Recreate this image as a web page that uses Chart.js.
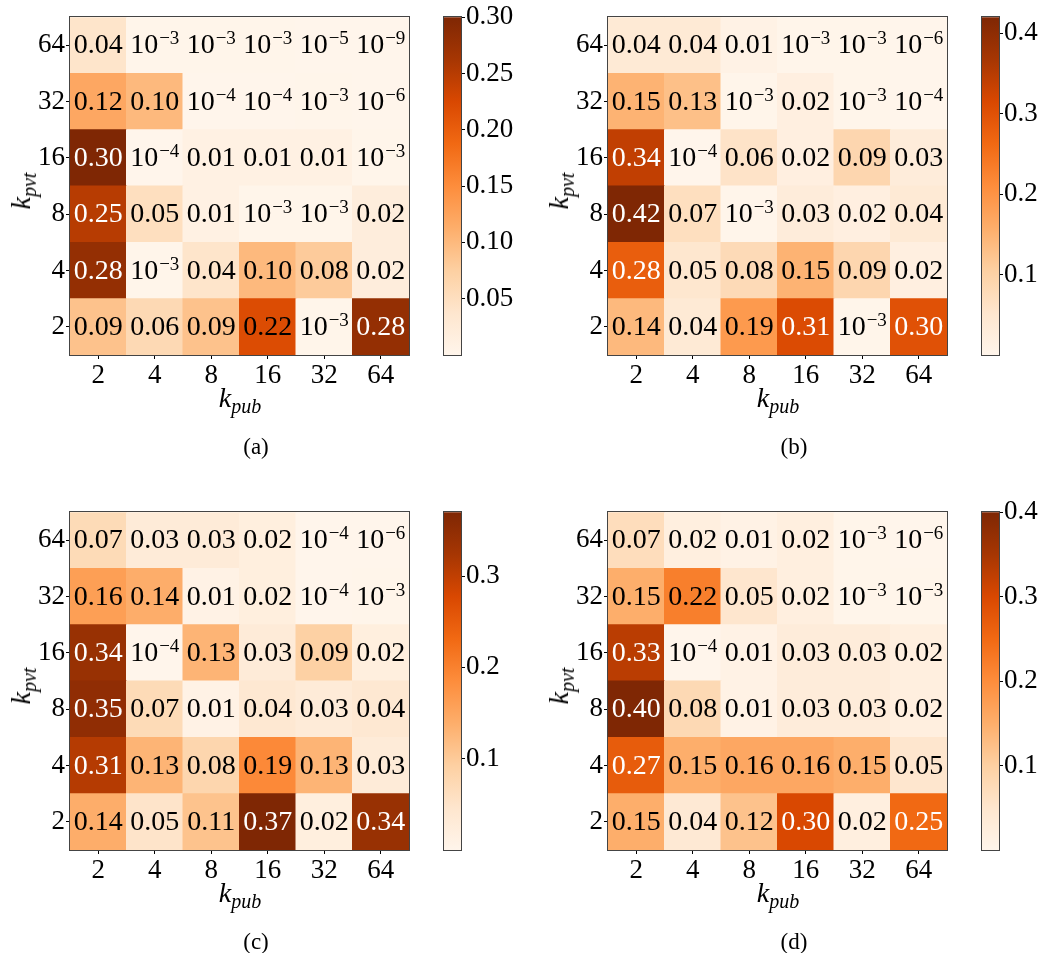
<!DOCTYPE html>
<html>
<head>
<meta charset="utf-8">
<script src="https://cdn.jsdelivr.net/npm/chart.js@4.4.0/dist/chart.umd.min.js"></script>
<style>
    body { margin: 0; background: #fff; }
    #page { position: relative; width: 1044px; height: 953px; font-family: "Liberation Serif", "Times New Roman", serif; color: #000; }
    #page canvas { position: absolute; }
    .ttl { position: absolute; white-space: nowrap; font-size: 28px; line-height: 28px; }
    .ttl sub { font-size: 20px; vertical-align: -6px; line-height: 0; }
    .cap { position: absolute; white-space: nowrap; font-size: 23px; line-height: 23px; transform: translate(-50%, -50%); }
</style>
</head>
<body>
<div id="page"></div>
<script>
    // axis categories
    var kpub = ['2', '4', '8', '16', '32', '64'];
    var kpvt = ['64', '32', '16', '8', '4', '2'];   // rows, top to bottom

    // cell values, rows top (k_pvt = 64) to bottom (k_pvt = 2)
    var valsA = [
        [0.04, 1e-3, 1e-3, 1e-3, 1e-5, 1e-9],
        [0.12, 0.10, 1e-4, 1e-4, 1e-3, 1e-6],
        [0.30, 1e-4, 0.01, 0.01, 0.01, 1e-3],
        [0.25, 0.05, 0.01, 1e-3, 1e-3, 0.02],
        [0.28, 1e-3, 0.04, 0.10, 0.08, 0.02],
        [0.09, 0.06, 0.09, 0.22, 1e-3, 0.28]
    ];
    var valsB = [
        [0.04, 0.04, 0.01, 1e-3, 1e-3, 1e-6],
        [0.15, 0.13, 1e-3, 0.02, 1e-3, 1e-4],
        [0.34, 1e-4, 0.06, 0.02, 0.09, 0.03],
        [0.42, 0.07, 1e-3, 0.03, 0.02, 0.04],
        [0.28, 0.05, 0.08, 0.15, 0.09, 0.02],
        [0.14, 0.04, 0.19, 0.31, 1e-3, 0.30]
    ];
    var valsC = [
        [0.07, 0.03, 0.03, 0.02, 1e-4, 1e-6],
        [0.16, 0.14, 0.01, 0.02, 1e-4, 1e-3],
        [0.34, 1e-4, 0.13, 0.03, 0.09, 0.02],
        [0.35, 0.07, 0.01, 0.04, 0.03, 0.04],
        [0.31, 0.13, 0.08, 0.19, 0.13, 0.03],
        [0.14, 0.05, 0.11, 0.37, 0.02, 0.34]
    ];
    var valsD = [
        [0.07, 0.02, 0.01, 0.02, 1e-3, 1e-6],
        [0.15, 0.22, 0.05, 0.02, 1e-3, 1e-3],
        [0.33, 1e-4, 0.01, 0.03, 0.03, 0.02],
        [0.40, 0.08, 0.01, 0.03, 0.03, 0.02],
        [0.27, 0.15, 0.16, 0.16, 0.15, 0.05],
        [0.15, 0.04, 0.12, 0.30, 0.02, 0.25]
    ];

    // colorbar tick labels
    var cbTicksA = [0.05, 0.10, 0.15, 0.20, 0.25, 0.30];
    var cbTicksB = [0.1, 0.2, 0.3, 0.4];
    var cbTicksC = [0.1, 0.2, 0.3];
    var cbTicksD = [0.1, 0.2, 0.3, 0.4];
    var cbDecimals = [2, 1, 1, 1];

    var captions = ['(a)', '(b)', '(c)', '(d)'];

    var FONT = '"Liberation Serif", "Times New Roman", serif';
    var whiteFrom = 0.23;
    var oranges = ['#fff5eb', '#fee6ce', '#fdd0a2', '#fdae6b', '#fd8d3c', '#f16913', '#d94801', '#a63603', '#7f2704'];

    function hexRgb(h) {
        return [parseInt(h.substr(1, 2), 16), parseInt(h.substr(3, 2), 16), parseInt(h.substr(5, 2), 16)];
    }

    function cmap(t) {
        t = Math.max(0, Math.min(1, t));
        var p = t * 8;
        var i = Math.min(7, Math.floor(p));
        var f = p - i;
        var a = hexRgb(oranges[i]), b = hexRgb(oranges[i + 1]);
        return 'rgb(' + Math.round(a[0] + (b[0] - a[0]) * f) + ',' + Math.round(a[1] + (b[1] - a[1]) * f) + ',' + Math.round(a[2] + (b[2] - a[2]) * f) + ')';
    }

    function drawValue(ctx, v, x, y) {
        ctx.fillStyle = v >= whiteFrom ? '#fff' : '#000';
        ctx.textBaseline = 'alphabetic';
        var base = y + 8;
        if (v >= 0.005) {
            ctx.font = '28px ' + FONT;
            ctx.textAlign = 'center';
            ctx.fillText(v.toFixed(2), x, base);
        } else {
            var sup = '\u2212' + Math.abs(Math.round(Math.log10(v)));
            ctx.font = '28px ' + FONT;
            var w1 = ctx.measureText('10').width;
            ctx.font = '19px ' + FONT;
            var w2 = ctx.measureText(sup).width;
            var x0 = x - (w1 + w2 + 1) / 2;
            ctx.textAlign = 'left';
            ctx.font = '28px ' + FONT;
            ctx.fillText('10', x0, base);
            ctx.font = '19px ' + FONT;
            ctx.fillText(sup, x0 + w1 + 1, base - 9);
        }
    }

    var outline = {
        id: 'outline',
        afterDraw: function (chart) {
            var a = chart.chartArea, ctx = chart.ctx;
            ctx.save();
            ctx.strokeStyle = '#444';
            ctx.lineWidth = 1;
            ctx.strokeRect(Math.round(a.left) - 0.5, Math.round(a.top) - 0.5, Math.round(a.right - a.left) + 1, Math.round(a.bottom - a.top) + 1);
            ctx.restore();
        }
    };

    var cellText = {
        id: 'cellText',
        afterDatasetsDraw: function (chart) {
            var ctx = chart.ctx;
            ctx.save();
            chart.data.datasets.forEach(function (ds, i) {
                chart.getDatasetMeta(i).data.forEach(function (bar, j) {
                    var c = bar.getCenterPoint();
                    drawValue(ctx, ds.cellValues[j], c.x, c.y);
                });
            });
            ctx.restore();
        }
    };

    function addCanvas(left, top, w, h) {
        var cv = document.createElement('canvas');
        cv.width = w;
        cv.height = h;
        cv.style.left = left + 'px';
        cv.style.top = top + 'px';
        cv.style.width = w + 'px';
        cv.style.height = h + 'px';
        document.getElementById('page').appendChild(cv);
        return cv.getContext('2d');
    }

    function tickFont() {
        return { family: FONT, size: 27 };
    }

    function makeHeatmap(vals, ox, oy) {
        var flat = [].concat.apply([], vals);
        var vmin = Math.min.apply(null, flat), vmax = Math.max.apply(null, flat);
        var datasets = [];
        for (var r = 0; r < 6; r++) {
            var row = vals[5 - r];
            datasets.push({
                label: kpvt[5 - r],
                data: row.map(function () { return 1; }),
                cellValues: row,
                backgroundColor: row.map(function (v) { return cmap((v - vmin) / (vmax - vmin)); }),
                borderWidth: 0,
                inflateAmount: 0.5,
                barPercentage: 1,
                categoryPercentage: 1
            });
        }
        var ctx = addCanvas(ox, oy, 430, 400);
        new Chart(ctx, {
            type: 'bar',
            data: { labels: kpub, datasets: datasets },
            options: {
                responsive: false,
                animation: false,
                events: [],
                layout: { padding: { left: 0, top: 15, right: 21, bottom: 0 } },
                plugins: { legend: { display: false }, tooltip: { enabled: false } },
                scales: {
                    x: {
                        stacked: true,
                        offset: true,
                        grid: { offset: false, drawOnChartArea: false, drawTicks: true, tickLength: 4, tickColor: '#000' },
                        border: { display: false },
                        ticks: { font: tickFont(), color: '#000', padding: 1, maxRotation: 0, autoSkip: false },
                        afterFit: function (s) { s.height = 45; }
                    },
                    y: {
                        stacked: true,
                        min: 0,
                        max: 6,
                        afterBuildTicks: function (s) {
                            s.ticks = kpvt.map(function (l, i) { return { value: i + 0.5 }; });
                        },
                        grid: { drawOnChartArea: false, drawTicks: true, tickLength: 4, tickColor: '#000' },
                        border: { display: false },
                        ticks: {
                            font: tickFont(), color: '#000', padding: 1,
                            callback: function (v) { return kpvt[5 - Math.floor(v)]; }
                        },
                        afterFit: function (s) { s.width = 70; }
                    }
                }
            },
            plugins: [cellText, outline]
        });
        return [vmin, vmax];
    }

    function makeColorbar(range, ticks, dec, ox, oy) {
        var ctx = addCanvas(ox + 430, oy, 100, 400);
        new Chart(ctx, {
            type: 'bar',
            data: {
                labels: [''],
                datasets: [{
                    data: [[range[0], range[1]]],
                    borderWidth: 0,
                    barPercentage: 1,
                    categoryPercentage: 1,
                    backgroundColor: function (c) {
                        var a = c.chart.chartArea;
                        if (!a) return oranges[0];
                        var g = c.chart.ctx.createLinearGradient(0, a.bottom, 0, a.top);
                        oranges.forEach(function (col, i) { g.addColorStop(i / 8, col); });
                        return g;
                    }
                }]
            },
            options: {
                responsive: false,
                animation: false,
                events: [],
                layout: { padding: { left: 14, top: 15, right: 0, bottom: 45 } },
                plugins: { legend: { display: false }, tooltip: { enabled: false } },
                scales: {
                    x: { display: false },
                    y: {
                        position: 'right',
                        min: range[0],
                        max: range[1],
                        afterBuildTicks: function (s) {
                            s.ticks = ticks.map(function (v) { return { value: v }; });
                        },
                        grid: { drawOnChartArea: false, drawTicks: true, tickLength: 4, tickColor: '#000' },
                        border: { display: false },
                        ticks: {
                            font: tickFont(), color: '#000', padding: 1,
                            callback: function (v) { return v.toFixed(dec); }
                        },
                        afterFit: function (s) { s.width = 69; }
                    }
                }
            },
            plugins: [outline]
        });
    }

    function addTitles(i, ox, oy) {
        var page = document.getElementById('page');
        var xt = document.createElement('div');
        xt.className = 'ttl';
        xt.innerHTML = '<i>k</i><sub><i>pub</i></sub>';
        xt.style.left = (240 + ox) + 'px';
        xt.style.top = (384 + oy) + 'px';
        xt.style.transform = 'translateX(-50%)';
        page.appendChild(xt);

        var yt = document.createElement('div');
        yt.className = 'ttl';
        yt.innerHTML = '<i>k</i><sub><i>pvt</i></sub>';
        yt.style.left = (21 + ox) + 'px';
        yt.style.top = (191 + oy) + 'px';
        yt.style.transform = 'translate(-50%, -50%) rotate(-90deg)';
        page.appendChild(yt);

        var cp = document.createElement('div');
        cp.className = 'cap';
        cp.textContent = captions[i];
        cp.style.left = (256 + ox) + 'px';
        cp.style.top = (446 + oy) + 'px';
        page.appendChild(cp);
    }

    var panels = [
        { vals: valsA, ticks: cbTicksA, ox: 0, oy: 0 },
        { vals: valsB, ticks: cbTicksB, ox: 538, oy: 0 },
        { vals: valsC, ticks: cbTicksC, ox: 0, oy: 495 },
        { vals: valsD, ticks: cbTicksD, ox: 538, oy: 495 }
    ];

    panels.forEach(function (p, i) {
        var range = makeHeatmap(p.vals, p.ox, p.oy);
        makeColorbar(range, p.ticks, cbDecimals[i], p.ox, p.oy);
        addTitles(i, p.ox, p.oy);
    });
</script>
</body>
</html>
